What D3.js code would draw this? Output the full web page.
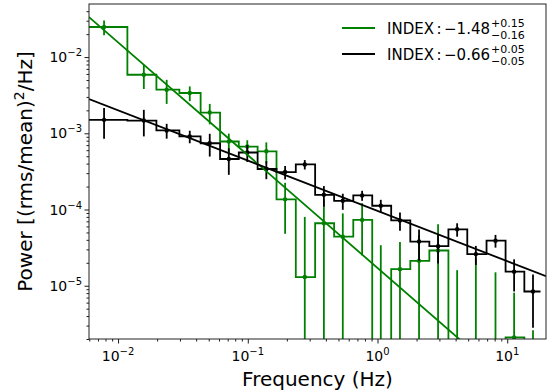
<!DOCTYPE html>
<html>
<head>
<meta charset="utf-8">
<script src="https://cdn.jsdelivr.net/npm/d3@7"></script>
<style>
  html, body { margin: 0; padding: 0; background: #fff; }
  svg { display: block; font-family: "DejaVu Sans", sans-serif; }
</style>
</head>
<body>
<svg id="chart" width="551" height="392"></svg>
<script>
// Frequencies of the rebinned power spectra (Hz)
const freq = [0.0078, 0.0158, 0.0237, 0.0357, 0.0509, 0.0714, 0.0991, 0.139, 0.194, 0.275, 0.386,
              0.540, 0.761, 1.06, 1.49, 2.09, 2.93, 4.11, 5.73, 8.12, 11.3, 15.8];

// Green spectrum (values below the axis are off-scale bins)
const greenPow = [2.48e-2, 5.86e-3, 3.73e-3, 3.38e-3, 1.87e-3, 7.8e-4, 6.7e-4, 5.8e-4, 1.36e-4, 1.30e-5, 6.6e-5,
                  4.4e-5, 7.3e-5, 1e-6, 1.65e-5, 2.12e-5, 2.9e-5, 1e-6, 1e-6, 1e-6, 2.1e-6, 1e-6];
const greenErr = [5.5e-3, 2.05e-3, 1.3e-3, 7.4e-4, 5.6e-4, 2.1e-4, 1.4e-4, 1.8e-4, 8.8e-5, 6.7e-5, 7e-5,
                  4.5e-5, 4.8e-5, 3.3e-5, 2.1e-5, 2.5e-5, 3.5e-5, 1.5e-5, 2.2e-5, 1.4e-5, 6e-6, 1.6e-6];

// Black spectrum
const blackPow = [1.50e-3, 1.47e-3, 1.09e-3, 9.1e-4, 7.4e-4, 4.6e-4, 5.6e-4, 3.4e-4, 3.1e-4, 3.9e-4, 1.56e-4,
                  1.30e-4, 1.53e-4, 1.12e-4, 7.2e-5, 3.8e-5, 3.3e-5, 5.5e-5, 2.6e-5, 3.9e-5, 1.53e-5, 8.4e-6];
const blackErr = [6.5e-4, 5.6e-4, 2.4e-4, 1.7e-4, 2.45e-4, 1.75e-4, 1.4e-4, 9e-5, 6.2e-5, 5.5e-5, 4.7e-5,
                  3.1e-5, 2.3e-5, 2.2e-5, 1.95e-5, 1.65e-5, 1.34e-5, 1.1e-5, 7.3e-6, 7.4e-6, 6.9e-6, 5.6e-6];

// Power-law fits: P = norm * f^index
const fitNorm  = [1.71e-5, 9.6e-5];
const fitIndex = [-1.48, -0.66];
const fitColor = ["green", "black"];
const fitLabel = [["−1.48", "+0.15", "−0.16"], ["−0.66", "+0.05", "−0.05"]];

// Axis ticks
const xTicks = [1e-2, 1e-1, 1e0, 1e1];
const xTickExp = ["−2", "−1", "0", "1"];
const yTicks = [1e-2, 1e-3, 1e-4, 1e-5];
const yTickExp = ["−2", "−3", "−4", "−5"];

const margin = {top: 4, right: 5, bottom: 53, left: 89};
const width  = 551 - margin.left - margin.right;
const height = 392 - margin.top - margin.bottom;

const svg = d3.select("#chart");
const g = svg.append("g").attr("transform", `translate(${margin.left},${margin.top})`);

const x = d3.scaleLog().domain([0.00597, 19.9]).range([0, width]);
const y = d3.scaleLog().domain([2.0e-6, 0.0497]).range([height, 0]);

// clip everything drawn inside the axes
svg.append("defs").append("clipPath").attr("id", "clip")
  .append("rect").attr("width", width).attr("height", height);
const plot = g.append("g").attr("clip-path", "url(#clip)");

// bin edges halfway between frequencies, ends extended by half a bin
const edges = [freq[0] - (freq[1] - freq[0]) / 2];
for (let i = 1; i < freq.length; i++) edges.push((freq[i - 1] + freq[i]) / 2);
const n = freq.length;
edges.push(freq[n - 1] + (freq[n - 1] - freq[n - 2]) / 2);

const yClamp = v => y(Math.max(v, 1e-9));
const stepLine = d3.line().x(d => x(d[0])).y(d => yClamp(d[1])).curve(d3.curveStepAfter);

function drawSpectrum(pow, err, color) {
  const pts = edges.map((e, i) => [e, pow[Math.min(i, n - 1)]]);
  plot.append("path")
    .datum(pts)
    .attr("fill", "none")
    .attr("stroke", color)
    .attr("stroke-width", 1.8)
    .attr("d", stepLine);

  // error bars
  plot.append("g").selectAll("line")
    .data(freq)
    .join("line")
    .attr("x1", d => x(d)).attr("x2", d => x(d))
    .attr("y1", (d, i) => yClamp(pow[i] + err[i]))
    .attr("y2", (d, i) => pow[i] - err[i] > 0 ? y(pow[i] - err[i]) : height + 10)
    .attr("stroke", color)
    .attr("stroke-width", 1.8);

  plot.append("g").selectAll("circle")
    .data(freq)
    .join("circle")
    .attr("cx", d => x(d))
    .attr("cy", (d, i) => yClamp(pow[i]))
    .attr("r", 2.2)
    .attr("fill", color);
}

drawSpectrum(greenPow, greenErr, "green");
drawSpectrum(blackPow, blackErr, "black");

// fitted power laws across the full x range
fitNorm.forEach((a, k) => {
  const ends = x.domain().map(f => [f, a * Math.pow(f, fitIndex[k])]);
  plot.append("path")
    .datum(ends)
    .attr("fill", "none")
    .attr("stroke", fitColor[k])
    .attr("stroke-width", 1.8)
    .attr("d", d3.line().x(d => x(d[0])).y(d => y(d[1])));
});

// axes with minor ticks
const minorX = [];
[-3, -2, -1, 0, 1].forEach(p => d3.range(2, 10).forEach(m => minorX.push(m * Math.pow(10, p))));
const minorY = [];
[-6, -5, -4, -3, -2].forEach(p => d3.range(2, 10).forEach(m => minorY.push(m * Math.pow(10, p))));

const xAxis = g.append("g").attr("transform", `translate(0,${height})`);
xAxis.call(d3.axisBottom(x).tickValues(minorX.filter(v => v >= x.domain()[0] && v <= x.domain()[1])).tickSize(2.5).tickFormat(""));
xAxis.append("g").call(d3.axisBottom(x).tickValues(xTicks).tickSize(4.5).tickFormat(""));

const yAxis = g.append("g");
yAxis.call(d3.axisLeft(y).tickValues(minorY.filter(v => v >= y.domain()[0] && v <= y.domain()[1])).tickSize(2.5).tickFormat(""));
yAxis.append("g").call(d3.axisLeft(y).tickValues(yTicks).tickSize(4.5).tickFormat(""));

g.selectAll(".domain").remove();
g.selectAll(".tick line").attr("stroke", "#000").attr("stroke-width", 0.9);

// frame
g.append("rect")
  .attr("width", width).attr("height", height)
  .attr("fill", "none").attr("stroke", "#222").attr("stroke-width", 1);

// tick labels written as 10 with a superscript power
xTicks.forEach((v, i) => {
  const t = g.append("text")
    .attr("x", x(v)).attr("y", height + 22)
    .attr("text-anchor", "middle")
    .attr("font-size", 14).attr("fill", "#000");
  t.append("tspan").text("10");
  t.append("tspan").attr("font-size", 10).attr("dy", -6).text(xTickExp[i]);
});
yTicks.forEach((v, i) => {
  const t = g.append("text")
    .attr("x", -7).attr("y", y(v) + 5)
    .attr("text-anchor", "end")
    .attr("font-size", 14).attr("fill", "#000");
  t.append("tspan").text("10");
  t.append("tspan").attr("font-size", 10).attr("dy", -6).text(yTickExp[i]);
});

// axis titles
g.append("text")
  .attr("x", width / 2).attr("y", height + 47)
  .attr("text-anchor", "middle").attr("font-size", 20)
  .text("Frequency (Hz)");

const yl = svg.append("text")
  .attr("transform", `translate(32,${margin.top + height / 2}) rotate(-90)`)
  .attr("text-anchor", "middle").attr("font-size", 20);
yl.append("tspan").text("Power [(rms/mean)");
yl.append("tspan").attr("font-size", 14).attr("dy", -8).text("2");
yl.append("tspan").attr("dy", 8).text("/Hz]");

// legend: line sample, then label with stacked upper / lower errors
const legend = svg.append("g");
fitLabel.forEach((lab, k) => {
  const ly = 28 + k * 26;
  legend.append("line")
    .attr("x1", 342).attr("x2", 375).attr("y1", ly).attr("y2", ly)
    .attr("stroke", fitColor[k]).attr("stroke-width", 1.8);
  const t = legend.append("text")
    .attr("x", 387).attr("y", ly + 5.5)
    .attr("font-size", 15);
  t.append("tspan").text("INDEX");
  t.append("tspan").attr("dx", 2.5).text(":");
  t.append("tspan").attr("dx", 2.5).text(lab[0]);
  const bb = t.node().getBBox();
  const xe = bb.x + bb.width + 1;
  legend.append("text").attr("x", xe).attr("y", ly - 1).attr("font-size", 11).text(lab[1]);
  legend.append("text").attr("x", xe).attr("y", ly + 10.5).attr("font-size", 11).text(lab[2]);
});
</script>
</body>
</html>
